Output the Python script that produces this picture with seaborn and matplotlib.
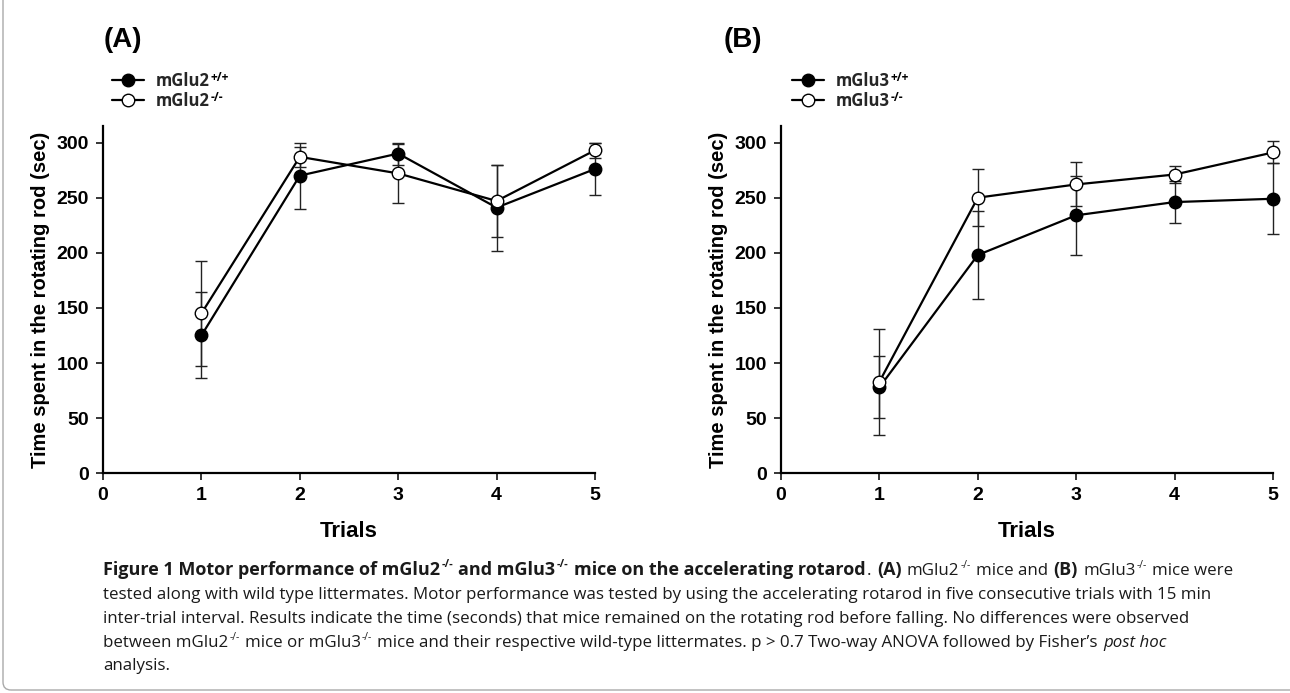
import matplotlib
matplotlib.use("Agg")
import matplotlib.pyplot as plt
import seaborn as sns
from matplotlib.patches import FancyBboxPatch

# ---------------- data ----------------
trials = [1, 2, 3, 4, 5]
a_wt = [125, 270, 290, 241, 276]
a_wt_err = [39, 30, 10, 39, 24]
a_ko = [145, 287, 272, 247, 293]
a_ko_err = [48, 9, 27, 33, 7]

b_wt = [78, 198, 234, 246, 249]
b_wt_err = [28, 40, 36, 19, 32]
b_ko = [83, 250, 262, 271, 291]
b_ko_err = [48, 26, 20, 8, 10]

x_ticks = [0, 1, 2, 3, 4, 5]
y_ticks = [0, 50, 100, 150, 200, 250, 300]

# ---------------- style ----------------
sns.set_theme(style="ticks")
plt.rcParams["font.family"] = ["Liberation Sans", "DejaVu Sans"]

W, H = 1290, 693
fig = plt.figure(figsize=(W / 100, H / 100), dpi=100)
fig.patch.set_facecolor("white")
renderer = fig.canvas.get_renderer()


def fx(px):
    return px / W


def fy(py):
    return 1 - py / H


legends = []


def panel(left_px, wt, wt_err, ko, ko_err, gene, letter, letter_x, leg_x):
    ax = fig.add_axes([fx(left_px), fy(473.3), 492 / W, (473.3 - 126.0) / H])
    ax.set_facecolor("white")
    ax.errorbar(trials, wt, yerr=wt_err, fmt="none", ecolor="#222222",
                elinewidth=1.0, capsize=4, capthick=1.0, zorder=2)
    ax.errorbar(trials, ko, yerr=ko_err, fmt="none", ecolor="#222222",
                elinewidth=1.0, capsize=4, capthick=1.0, zorder=2)
    sns.lineplot(x=trials, y=wt, ax=ax, color="black", marker="o",
                 markersize=9, markerfacecolor="black", markeredgecolor="black",
                 markeredgewidth=1.0, linewidth=1.6, zorder=3,
                 label="mGlu" + gene)
    sns.lineplot(x=trials, y=ko, ax=ax, color="black", marker="o",
                 markersize=9, markerfacecolor="white", markeredgecolor="black",
                 markeredgewidth=1.0, linewidth=1.6, zorder=3,
                 label="mGlu" + gene)
    for art in ax.get_children():
        try:
            art.set_clip_on(False)
        except Exception:
            pass
    ax.set_xlim(0, 5)
    ax.set_ylim(0, 315)
    ax.set_xticks(x_ticks)
    ax.set_yticks(y_ticks)
    ax.set_xticklabels([str(v) for v in x_ticks])
    ax.set_yticklabels([str(v) for v in y_ticks])
    sns.despine(ax=ax)
    for s in ("left", "bottom"):
        ax.spines[s].set_linewidth(1.6)
        ax.spines[s].set_color("black")
    ax.tick_params(direction="out", length=5, width=1.1, labelsize=14,
                   pad=5, colors="black")
    for lab in ax.get_xticklabels() + ax.get_yticklabels():
        lab.set_fontweight("bold")
    ax.set_xlabel("Trials", fontsize=16, fontweight="bold", labelpad=12,
                  color="black")
    ax.set_ylabel("Time spent in the rotating rod (sec)", fontsize=14.5,
                  fontweight="bold", labelpad=5, color="black")
    ax.grid(False)
    handles, labels = ax.get_legend_handles_labels()
    leg = ax.legend(handles, labels, loc="upper left",
                    bbox_to_anchor=(fx(leg_x), fy(72)),
                    bbox_transform=fig.transFigure, frameon=False,
                    fontsize=12, handlelength=1.9, handletextpad=0.7,
                    labelspacing=0.1, borderpad=0, borderaxespad=0)
    for t in leg.get_texts():
        t.set_fontfamily("Open Sans")
        t.set_fontweight("bold")
    legends.append(leg)
    fig.text(fx(letter_x), fy(40), letter, fontsize=20, fontweight="bold",
             va="center", ha="left", color="black")
    return ax


panel(103, a_wt, a_wt_err, a_ko, a_ko_err, "2", "(A)", 104, 112)
panel(781, b_wt, b_wt_err, b_ko, b_ko_err, "3", "(B)", 724, 792)

# superscripts for legend labels
fig.canvas.draw()
for leg in legends:
    for t, sup in zip(leg.get_texts(), ["+/+", "-/-"]):
        bb = t.get_window_extent(renderer)
        fig.text((bb.x1 + 1) / W, (bb.y1 + 1) / H, sup, fontsize=8.5,
                 fontfamily="Open Sans", fontweight="bold", va="top",
                 ha="left", color="black")

# ---------------- caption ----------------
CAP_FS = {"b": 13.0, "n": 12.2, "i": 12.2}
CAP_FAM = "Open Sans"


def style_kw(st):
    base = st.replace("sup", "")
    kw = dict(fontfamily=CAP_FAM, fontweight="normal", fontstyle="normal",
              fontsize=CAP_FS[base])
    if base == "b":
        kw["fontweight"] = "bold"
    if base == "i":
        kw["fontstyle"] = "italic"
    if st.endswith("sup"):
        kw["fontsize"] = CAP_FS[base] * 0.6
    return kw


space_cache = {}


def space_w(st):
    base = st.replace("sup", "")
    if base not in space_cache:
        kw = style_kw(base)
        t1 = fig.text(0, 0, "a a", **kw)
        t2 = fig.text(0, 0, "aa", **kw)
        w = t1.get_window_extent(renderer).width - t2.get_window_extent(renderer).width
        t1.remove()
        t2.remove()
        space_cache[base] = w
    return space_cache[base]


def draw_line(x, y_base, runs):
    for txt, st, sp in runs:
        if sp:
            x += space_w(st)
        kw = style_kw(st)
        base = st.replace("sup", "")
        yy = y_base - (CAP_FS[base] * 100 / 72 * 0.42 if st.endswith("sup") else 0)
        t = fig.text(fx(x), fy(yy), txt, va="baseline", ha="left",
                     color="#1a1a1a", **kw)
        x += t.get_window_extent(renderer).width + 1


cap_lines = [
    [("Figure 1 Motor performance of mGlu2", "b", False), ("-/-", "bsup", False),
     ("and mGlu3", "b", True), ("-/-", "bsup", False),
     ("mice on the accelerating rotarod", "b", True), (".", "n", False),
     ("(A)", "b", True), ("mGlu2", "n", True), ("-/-", "nsup", False),
     ("mice and", "n", True), ("(B)", "b", True), ("mGlu3", "n", True),
     ("-/-", "nsup", False), ("mice were", "n", True)],
    [("tested along with wild type littermates. Motor performance was tested by using the accelerating rotarod in five consecutive trials with 15 min", "n", False)],
    [("inter-trial interval. Results indicate the time (seconds) that mice remained on the rotating rod before falling. No differences were observed", "n", False)],
    [("between mGlu2", "n", False), ("-/-", "nsup", False), ("mice or mGlu3", "n", True),
     ("-/-", "nsup", False),
     ("mice and their respective wild-type littermates. p > 0.7 Two-way ANOVA followed by Fisher\u2019s", "n", True),
     ("post hoc", "i", True)],
    [("analysis.", "n", False)],
]
cap_y = [575, 599, 623, 647, 670]
for line, yb in zip(cap_lines, cap_y):
    draw_line(103, yb, line)

# rounded frame on the left/bottom
frame = FancyBboxPatch((0.03, 0.03), 14, 8,
                       boxstyle="round,pad=0,rounding_size=0.08",
                       transform=fig.dpi_scale_trans, fill=False,
                       edgecolor="#aaaaaa", linewidth=1.0)
fig.patches.append(frame)

fig.savefig("out.png", dpi=100, facecolor="white")
